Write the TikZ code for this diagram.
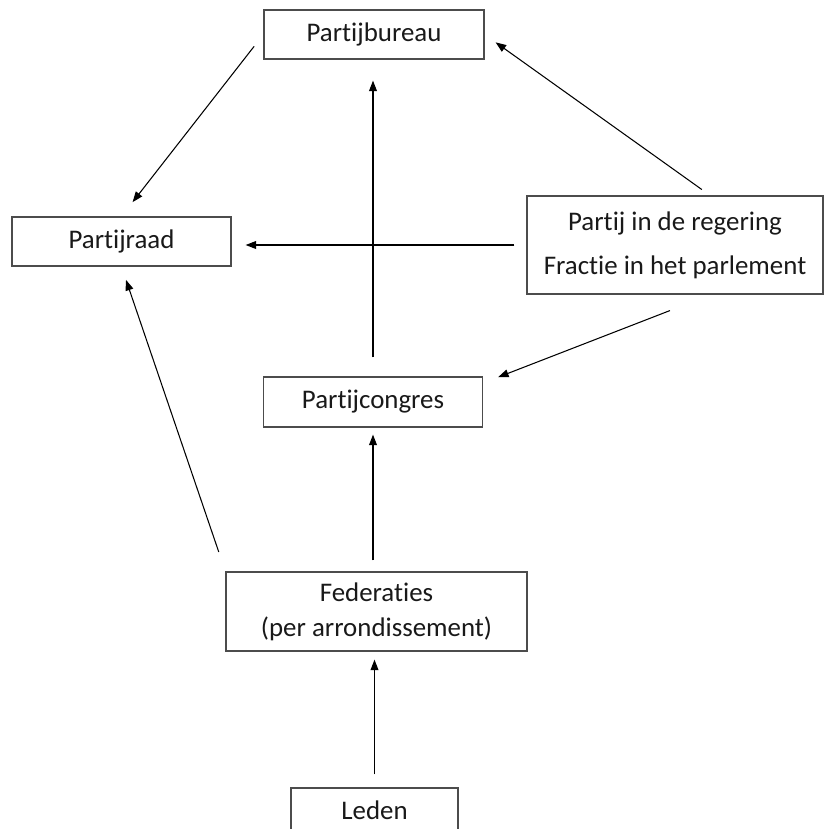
\documentclass[tikz,border=0pt]{standalone}
\usepackage{fontspec}
\setmainfont{Carlito}[Ligatures={NoCommon}]
\usetikzlibrary{arrows.meta}
\tikzset{
  caixa/.style={draw=black!70, line width=0.75pt, inner sep=0pt, align=center,
    font=\fontsize{15.3}{18}\selectfont, text=black!90},
  seta/.style={-{Triangle[length=6pt,width=4.5pt]}, line width=0.6pt}
}
\begin{document}
\begin{tikzpicture}[x=0.02cm, y=-0.02cm]
    \clip (0,0) rectangle (824,829);

    % Caixas
    \node[caixa, minimum width=4.4cm, minimum height=0.98cm] (pb) at (374,34.5) {Partijbureau};
    \node[caixa, minimum width=4.38cm, minimum height=0.98cm] (pr) at (121.5,241.5) {Partijraad};
    \node[caixa, minimum width=5.92cm, minimum height=1.96cm] (reg) at (675,245)
        {Partij in de regering\\[7pt]Fractie in het parlement};
    \node[caixa, minimum width=4.38cm, minimum height=1.0cm] (pc) at (373,402) {Partijcongres};
    \node[caixa, minimum width=6.02cm, minimum height=1.58cm] (fed) at (376.5,611.5)
        {Federaties\\[2pt](per arrondissement)};
    \node[caixa, minimum width=3.34cm, minimum height=0.88cm] (leden) at (374.5,810) {Leden};

    % Setas
    \draw[seta, shorten <=0.3cm, shorten >=0.36cm] (pb.west) -- (pr.north);
    \draw[seta, shorten <=0.2cm, shorten >=0.27cm] ([xshift=0.7cm]reg.north) -- (pb.east);
    \draw[seta, shorten <=0.24cm, shorten >=0.28cm] (reg.west) -- (reg.west -| pr.east);
    \draw[seta, shorten <=0.38cm, shorten >=0.42cm] (pc.north) -- (pc.north |- pb.south);
    \draw[seta, shorten <=0.88cm, shorten >=0.32cm] ([xshift=0.72cm]reg.south) -- ([yshift=0.38cm]pc.east);
    \draw[seta, shorten <=0.22cm, shorten >=0.14cm] (fed.north -| pc.south) -- (pc.south);
    \draw[seta, shorten <=0.41cm, shorten >=0.28cm] (fed.north west) -- (pr.south);
    \draw[seta, shorten <=0.26cm, shorten >=0.16cm] (leden.north) -- (leden.north |- fed.south);
\end{tikzpicture}
\end{document}
